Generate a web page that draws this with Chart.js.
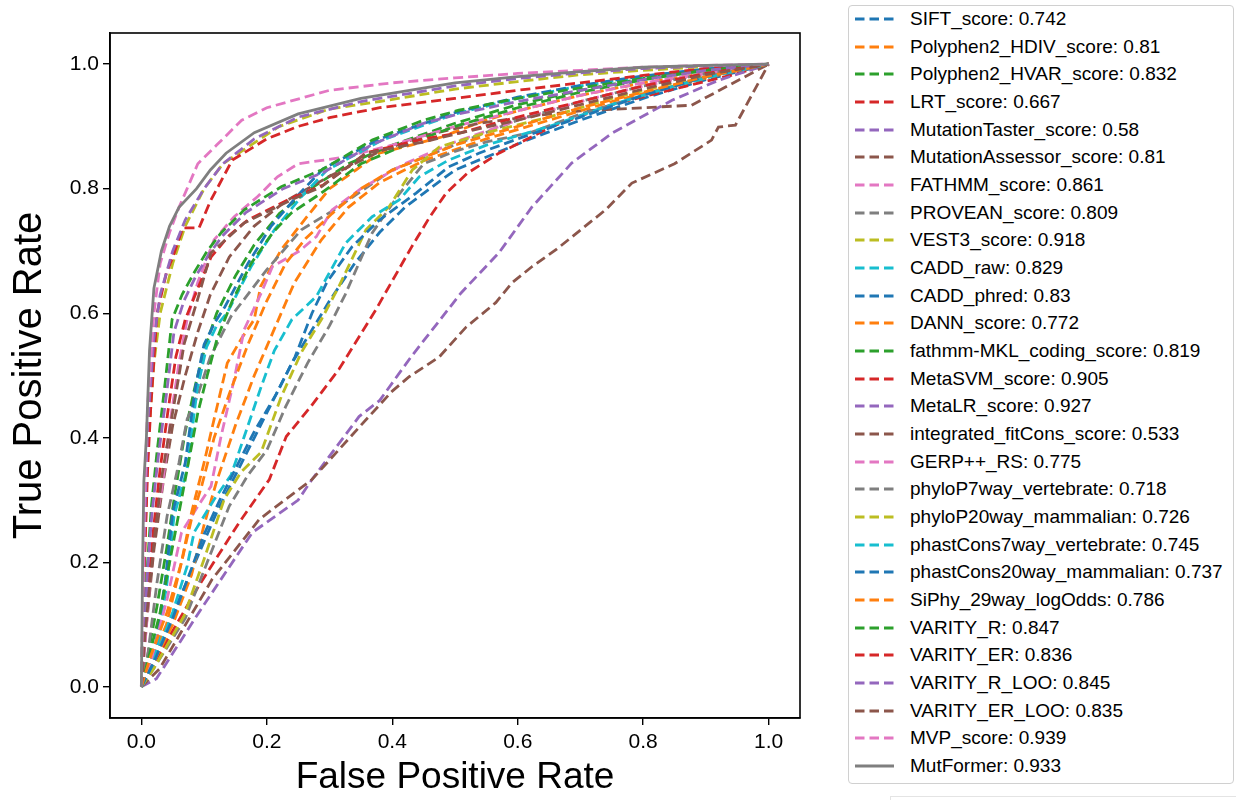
<!DOCTYPE html>
<html>
<head>
<meta charset="utf-8">
<script src="https://cdn.jsdelivr.net/npm/chart.js@4.4.1/dist/chart.umd.min.js"></script>
<style>
  html, body { margin: 0; padding: 0; background: #fff; width: 1236px; height: 800px; overflow: hidden; }
  #wrap { position: absolute; left: 0; top: 0; width: 840px; height: 800px; }
  #legend { position: absolute; left: 848px; top: 5px; width: 386px; height: 779px; box-sizing: border-box;
            border: 1px solid #d0d0d0; border-radius: 4px; background: #fff; }
  .item { position: absolute; left: 0; height: 28px; display: flex; align-items: center;
          font-family: "Liberation Sans", Arial, sans-serif; font-size: 19px; color: #000; white-space: nowrap; }
  .item svg { position: absolute; left: 6px; top: 12px; }
  .item span { position: absolute; left: 61px; }
  #corner { position: absolute; left: 890px; top: 796px; width: 346px; height: 10px;
            border-top: 1px solid #e4e4e4; border-left: 1px solid #e4e4e4; }
</style>
</head>
<body>
<div id="wrap"><canvas id="c" width="840" height="800"></canvas></div>
<div id="legend"></div>
<div id="corner"></div>
<script>
// ---------------- DATA ----------------
const xTicks = [0.0, 0.2, 0.4, 0.6, 0.8, 1.0];
const yTicks = [0.0, 0.2, 0.4, 0.6, 0.8, 1.0];
const xTitle = "False Positive Rate";
const yTitle = "True Positive Rate";

const seriesNames = ["SIFT_score","Polyphen2_HDIV_score","Polyphen2_HVAR_score","LRT_score","MutationTaster_score",
  "MutationAssessor_score","FATHMM_score","PROVEAN_score","VEST3_score","CADD_raw","CADD_phred","DANN_score",
  "fathmm-MKL_coding_score","MetaSVM_score","MetaLR_score","integrated_fitCons_score","GERP++_RS",
  "phyloP7way_vertebrate","phyloP20way_mammalian","phastCons7way_vertebrate","phastCons20way_mammalian",
  "SiPhy_29way_logOdds","VARITY_R","VARITY_ER","VARITY_R_LOO","VARITY_ER_LOO","MVP_score","MutFormer"];
const seriesAUC = ["0.742","0.81","0.832","0.667","0.58","0.81","0.861","0.809","0.918","0.829","0.83","0.772",
  "0.819","0.905","0.927","0.533","0.775","0.718","0.726","0.745","0.737","0.786","0.847","0.836","0.845","0.835","0.939","0.933"];

// ROC points [fpr, tpr]
const SIFT_score = [[0,0],[0.01,0.02],[0.03,0.07],[0.06,0.14],[0.09,0.21],[0.12,0.28],[0.15,0.34],[0.18,0.4],[0.21,0.46],[0.24,0.52],[0.27,0.57],[0.3,0.62],[0.34,0.68],[0.38,0.73],[0.42,0.77],[0.46,0.8],[0.5,0.83],[0.56,0.855],[0.62,0.88],[0.7,0.91],[0.8,0.945],[0.9,0.975],[1,1]];
const Polyphen2_HDIV = [[0,0],[0.01,0.03],[0.04,0.1],[0.064,0.2],[0.08,0.28],[0.1,0.36],[0.116,0.43],[0.137,0.52],[0.16,0.56],[0.18,0.59],[0.19,0.643],[0.223,0.702],[0.26,0.75],[0.3,0.8],[0.342,0.83],[0.379,0.857],[0.43,0.87],[0.479,0.883],[0.549,0.91],[0.6,0.925],[0.7,0.95],[0.8,0.97],[0.9,0.985],[1,1]];
const Polyphen2_HVAR = [[0,0],[0.01,0.05],[0.025,0.13],[0.04,0.22],[0.055,0.32],[0.07,0.41],[0.085,0.48],[0.1,0.54],[0.12,0.6],[0.15,0.66],[0.18,0.71],[0.22,0.76],[0.27,0.8],[0.33,0.84],[0.4,0.87],[0.5,0.905],[0.6,0.935],[0.7,0.958],[0.8,0.977],[0.9,0.99],[1,1]];
const LRT_score = [[0,0],[0.018,0.034],[0.05,0.09],[0.092,0.163],[0.156,0.264],[0.204,0.333],[0.231,0.402],[0.27,0.45],[0.315,0.51],[0.374,0.606],[0.43,0.705],[0.46,0.755],[0.486,0.793],[0.52,0.825],[0.57,0.857],[0.655,0.9],[0.75,0.935],[0.857,0.962],[0.94,0.982],[1,1]];
const MutationTaster = [[0,0],[0.024,0.013],[0.092,0.12],[0.177,0.248],[0.25,0.3],[0.272,0.333],[0.347,0.434],[0.38,0.46],[0.43,0.53],[0.51,0.633],[0.57,0.697],[0.623,0.771],[0.686,0.841],[0.75,0.889],[0.846,0.942],[0.92,0.974],[1,1]];
const MutationAssessor = [[0,0],[0.008,0.1],[0.02,0.22],[0.035,0.33],[0.05,0.42],[0.07,0.5],[0.09,0.57],[0.11,0.63],[0.14,0.69],[0.18,0.74],[0.23,0.78],[0.3,0.82],[0.38,0.86],[0.45,0.885],[0.538,0.905],[0.634,0.918],[0.7,0.925],[0.8,0.93],[0.877,0.934],[1,1]];
const FATHMM_score = [[0,0],[0.01,0.12],[0.02,0.25],[0.033,0.32],[0.048,0.44],[0.06,0.52],[0.073,0.59],[0.09,0.65],[0.116,0.718],[0.148,0.755],[0.185,0.787],[0.217,0.819],[0.25,0.84],[0.32,0.85],[0.4,0.87],[0.5,0.9],[0.6,0.925],[0.7,0.95],[0.8,0.97],[0.9,0.985],[1,1]];
const PROVEAN_score = [[0,0],[0.01,0.05],[0.025,0.168],[0.041,0.274],[0.06,0.36],[0.073,0.43],[0.089,0.466],[0.11,0.53],[0.143,0.595],[0.2,0.67],[0.255,0.734],[0.307,0.766],[0.4,0.83],[0.506,0.873],[0.6,0.91],[0.7,0.94],[0.8,0.965],[0.9,0.985],[1,1]];
const VEST3_score = [[0,0],[0.005,0.2],[0.01,0.38],[0.02,0.52],[0.03,0.6],[0.05,0.68],[0.07,0.74],[0.1,0.8],[0.13,0.84],[0.17,0.867],[0.22,0.9],[0.3,0.928],[0.38,0.94],[0.5,0.96],[0.6,0.972],[0.7,0.983],[0.8,0.99],[0.9,0.996],[1,1]];
const CADD_raw = [[0,0],[0.01,0.02],[0.025,0.061],[0.041,0.168],[0.052,0.274],[0.073,0.35],[0.089,0.478],[0.104,0.546],[0.12,0.58],[0.137,0.601],[0.175,0.675],[0.212,0.734],[0.255,0.787],[0.296,0.83],[0.384,0.878],[0.5,0.92],[0.6,0.945],[0.7,0.965],[0.8,0.98],[0.9,0.992],[1,1]];
const CADD_phred = [[0,0],[0.01,0.025],[0.023,0.07],[0.038,0.17],[0.05,0.28],[0.07,0.36],[0.086,0.48],[0.1,0.55],[0.117,0.585],[0.133,0.61],[0.17,0.68],[0.207,0.74],[0.25,0.79],[0.29,0.832],[0.38,0.88],[0.5,0.922],[0.6,0.947],[0.7,0.966],[0.8,0.981],[0.9,0.992],[1,1]];
const DANN_score = [[0,0],[0.02,0.04],[0.05,0.1],[0.08,0.18],[0.1,0.26],[0.12,0.33],[0.15,0.42],[0.18,0.5],[0.21,0.57],[0.244,0.649],[0.287,0.718],[0.33,0.77],[0.38,0.81],[0.45,0.845],[0.55,0.88],[0.65,0.91],[0.75,0.94],[0.85,0.965],[0.93,0.985],[1,1]];
const fathmm_MKL = [[0,0],[0.01,0.04],[0.03,0.12],[0.045,0.2],[0.06,0.28],[0.075,0.36],[0.09,0.44],[0.105,0.5],[0.121,0.56],[0.145,0.62],[0.175,0.68],[0.21,0.73],[0.239,0.761],[0.287,0.793],[0.35,0.84],[0.42,0.87],[0.5,0.9],[0.6,0.93],[0.7,0.955],[0.8,0.975],[0.9,0.99],[1,1]];
const MetaSVM_score = [[0,0],[0.005,0.2],[0.01,0.35],[0.015,0.45],[0.025,0.6],[0.04,0.665],[0.05,0.69],[0.066,0.737],[0.092,0.737],[0.11,0.78],[0.145,0.846],[0.2,0.88],[0.25,0.9],[0.3,0.914],[0.38,0.93],[0.5,0.945],[0.6,0.958],[0.7,0.97],[0.8,0.982],[0.9,0.993],[1,1]];
const MetaLR_score = [[0,0],[0.005,0.25],[0.01,0.42],[0.02,0.56],[0.03,0.63],[0.05,0.7],[0.07,0.75],[0.1,0.8],[0.13,0.84],[0.18,0.88],[0.25,0.915],[0.35,0.94],[0.5,0.965],[0.6,0.977],[0.7,0.986],[0.8,0.993],[0.9,0.997],[1,1]];
const integrated_fitCons = [[0,0],[0.029,0.029],[0.113,0.173],[0.188,0.269],[0.272,0.333],[0.35,0.42],[0.4,0.475],[0.427,0.498],[0.46,0.52],[0.475,0.53],[0.518,0.578],[0.565,0.617],[0.591,0.649],[0.623,0.675],[0.661,0.702],[0.74,0.766],[0.782,0.809],[0.85,0.84],[0.909,0.878],[0.92,0.899],[0.947,0.902],[1,1]];
const GERP_RS = [[0,0],[0.015,0.04],[0.041,0.141],[0.064,0.248],[0.09,0.29],[0.111,0.322],[0.127,0.402],[0.148,0.494],[0.164,0.574],[0.19,0.63],[0.209,0.675],[0.252,0.7],[0.279,0.723],[0.304,0.766],[0.35,0.8],[0.42,0.84],[0.5,0.875],[0.6,0.91],[0.7,0.94],[0.8,0.965],[0.9,0.985],[1,1]];
const phyloP7way = [[0,0],[0.02,0.03],[0.07,0.11],[0.105,0.2],[0.14,0.29],[0.17,0.34],[0.2,0.38],[0.23,0.45],[0.265,0.52],[0.3,0.58],[0.325,0.63],[0.368,0.729],[0.41,0.79],[0.45,0.84],[0.5,0.86],[0.55,0.875],[0.62,0.89],[0.7,0.92],[0.8,0.95],[0.9,0.98],[1,1]];
const phyloP20way = [[0,0],[0.02,0.03],[0.068,0.114],[0.1,0.205],[0.132,0.301],[0.159,0.345],[0.191,0.377],[0.223,0.466],[0.255,0.537],[0.287,0.59],[0.315,0.643],[0.358,0.734],[0.395,0.771],[0.432,0.83],[0.475,0.867],[0.55,0.89],[0.65,0.915],[0.75,0.945],[0.85,0.97],[0.93,0.988],[1,1]];
const phastCons7way = [[0,0],[0.02,0.04],[0.05,0.12],[0.073,0.194],[0.084,0.248],[0.116,0.301],[0.143,0.34],[0.164,0.402],[0.191,0.482],[0.212,0.54],[0.24,0.59],[0.279,0.627],[0.326,0.713],[0.368,0.755],[0.411,0.782],[0.443,0.819],[0.49,0.846],[0.55,0.87],[0.65,0.9],[0.75,0.935],[0.85,0.965],[0.93,0.985],[1,1]];
const phastCons20way = [[0,0],[0.02,0.04],[0.05,0.11],[0.08,0.19],[0.1,0.245],[0.125,0.3],[0.155,0.36],[0.18,0.41],[0.215,0.47],[0.245,0.53],[0.272,0.6],[0.296,0.65],[0.336,0.707],[0.38,0.75],[0.438,0.793],[0.49,0.835],[0.538,0.857],[0.6,0.88],[0.7,0.915],[0.8,0.95],[0.9,0.98],[1,1]];
const SiPhy_29way = [[0,0],[0.015,0.05],[0.041,0.12],[0.064,0.2],[0.08,0.27],[0.096,0.322],[0.116,0.4],[0.14,0.47],[0.17,0.55],[0.2,0.62],[0.23,0.68],[0.262,0.72],[0.304,0.76],[0.35,0.8],[0.4,0.83],[0.5,0.87],[0.6,0.9],[0.7,0.93],[0.8,0.955],[0.9,0.98],[1,1]];
const VARITY_R = [[0,0],[0.005,0.1],[0.01,0.2],[0.016,0.29],[0.025,0.377],[0.037,0.48],[0.049,0.59],[0.065,0.63],[0.084,0.665],[0.105,0.7],[0.127,0.729],[0.164,0.766],[0.223,0.803],[0.287,0.83],[0.368,0.878],[0.45,0.91],[0.506,0.926],[0.6,0.945],[0.7,0.962],[0.8,0.977],[0.9,0.99],[1,1]];
const VARITY_ER = [[0,0],[0.005,0.08],[0.012,0.17],[0.02,0.26],[0.03,0.35],[0.042,0.44],[0.055,0.53],[0.07,0.59],[0.09,0.64],[0.111,0.69],[0.14,0.725],[0.17,0.75],[0.24,0.785],[0.29,0.806],[0.36,0.858],[0.45,0.88],[0.51,0.89],[0.6,0.915],[0.7,0.94],[0.8,0.965],[0.9,0.985],[1,1]];
const VARITY_R_LOO = [[0,0],[0.005,0.09],[0.01,0.19],[0.017,0.28],[0.027,0.37],[0.04,0.47],[0.052,0.57],[0.068,0.62],[0.087,0.66],[0.108,0.695],[0.13,0.725],[0.167,0.762],[0.226,0.8],[0.29,0.826],[0.37,0.872],[0.45,0.905],[0.506,0.92],[0.6,0.94],[0.7,0.958],[0.8,0.975],[0.9,0.99],[1,1]];
const VARITY_ER_LOO = [[0,0],[0.005,0.075],[0.013,0.16],[0.022,0.25],[0.033,0.34],[0.048,0.43],[0.06,0.5],[0.068,0.55],[0.089,0.62],[0.111,0.697],[0.164,0.745],[0.239,0.782],[0.287,0.803],[0.358,0.857],[0.45,0.875],[0.506,0.889],[0.6,0.91],[0.7,0.935],[0.8,0.96],[0.9,0.983],[1,1]];
const MVP_score = [[0,0],[0.005,0.3],[0.01,0.45],[0.02,0.6],[0.03,0.68],[0.045,0.73],[0.06,0.77],[0.09,0.84],[0.12,0.87],[0.16,0.91],[0.2,0.93],[0.3,0.958],[0.4,0.97],[0.5,0.978],[0.6,0.985],[0.7,0.99],[0.8,0.995],[0.9,0.998],[1,1]];
const MutFormer = [[0,0],[0.002,0.2],[0.004,0.33],[0.008,0.4],[0.013,0.54],[0.02,0.64],[0.032,0.7],[0.045,0.74],[0.06,0.77],[0.088,0.8],[0.11,0.83],[0.135,0.857],[0.18,0.89],[0.25,0.92],[0.35,0.945],[0.5,0.97],[0.6,0.98],[0.7,0.988],[0.8,0.995],[0.9,0.998],[1,1]];

const seriesPoints = [SIFT_score, Polyphen2_HDIV, Polyphen2_HVAR, LRT_score, MutationTaster, MutationAssessor,
  FATHMM_score, PROVEAN_score, VEST3_score, CADD_raw, CADD_phred, DANN_score, fathmm_MKL, MetaSVM_score,
  MetaLR_score, integrated_fitCons, GERP_RS, phyloP7way, phyloP20way, phastCons7way, phastCons20way,
  SiPhy_29way, VARITY_R, VARITY_ER, VARITY_R_LOO, VARITY_ER_LOO, MVP_score, MutFormer];

// ---------------- STYLE ----------------
const palette = ["#1f77b4","#ff7f0e","#2ca02c","#d62728","#9467bd","#8c564b","#e377c2","#7f7f7f","#bcbd22","#17becf"];
const FONT = '"Liberation Sans", Arial, sans-serif';
const N = seriesNames.length;
const colorOf = i => i === N - 1 ? "#7f7f7f" : palette[i % 10];
const dashOf = i => i === N - 1 ? [] : [10, 5];

const datasets = seriesNames.map((name, i) => ({
  label: name + ": " + seriesAUC[i],
  data: seriesPoints[i].map(p => ({x: p[0], y: p[1]})),
  borderColor: colorOf(i),
  backgroundColor: colorOf(i),
  borderDash: dashOf(i),
  borderWidth: 2.8,
  pointRadius: 0,
  tension: 0,
  fill: false,
  order: N - i
}));

const frame = {
  id: 'frame',
  afterDraw(chart) {
    const {ctx, chartArea: a} = chart;
    ctx.save();
    ctx.strokeStyle = '#000';
    ctx.lineWidth = 1.6;
    ctx.strokeRect(a.left, a.top, a.right - a.left, a.bottom - a.top);
    ctx.restore();
  }
};

new Chart(document.getElementById('c'), {
  type: 'line',
  data: { datasets },
  plugins: [frame],
  options: {
    responsive: false,
    animation: false,
    events: [],
    layout: { padding: { left: 0, top: 33, right: 40, bottom: 0 } },
    plugins: { legend: { display: false }, tooltip: { enabled: false } },
    scales: {
      x: {
        type: 'linear', min: -0.05, max: 1.05,
        afterBuildTicks: s => { s.ticks = xTicks.map(v => ({value: v})); },
        afterFit: s => { s.height = 82; },
        grid: { drawOnChartArea: false, drawTicks: true, tickLength: 7, color: '#000', lineWidth: 1.4 },
        border: { display: true, color: '#000', width: 1.6 },
        ticks: { color: '#000', font: { family: FONT, size: 21 }, padding: 5, maxRotation: 0,
                 callback: v => Number(v).toFixed(1) },
        title: { display: true, text: xTitle, color: '#000', font: { family: FONT, size: 37 }, padding: { top: 0, bottom: 0 } }
      },
      y: {
        type: 'linear', min: -0.05, max: 1.05,
        afterBuildTicks: s => { s.ticks = yTicks.map(v => ({value: v})); },
        afterFit: s => { s.width = 110; },
        grid: { drawOnChartArea: false, drawTicks: true, tickLength: 7, color: '#000', lineWidth: 1.4 },
        border: { display: true, color: '#000', width: 1.6 },
        ticks: { color: '#000', font: { family: FONT, size: 21 }, padding: 4,
                 callback: v => Number(v).toFixed(1) },
        title: { display: true, text: yTitle, color: '#000', font: { family: FONT, size: 40 }, padding: { top: 6, bottom: 0 } }
      }
    }
  }
});

// ---------------- LEGEND ----------------
const legend = document.getElementById('legend');
const legendTop = 5, firstCenter = 19, step = 27.67;
seriesNames.forEach((name, i) => {
  const it = document.createElement('div');
  it.className = 'item';
  it.style.top = (firstCenter + i * step - 14 - legendTop - 1) + 'px';
  const dash = dashOf(i).length ? 'stroke-dasharray="9.5,5"' : '';
  it.innerHTML = '<svg width="40" height="4"><line x1="0" y1="2" x2="39" y2="2" stroke="' + colorOf(i) +
    '" stroke-width="3" ' + dash + '/></svg><span></span>';
  it.querySelector('span').textContent = name + ": " + seriesAUC[i];
  legend.appendChild(it);
});
</script>
</body>
</html>
